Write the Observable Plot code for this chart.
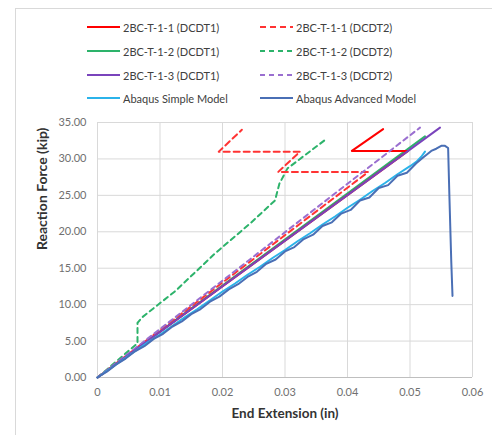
<!DOCTYPE html>
<html>
<head>
<meta charset="utf-8">
<script src="https://cdn.jsdelivr.net/npm/d3@7"></script>
<script src="https://cdn.jsdelivr.net/npm/@observablehq/plot@0.6"></script>
<style>
  html, body { margin: 0; padding: 0; background: #fff; overflow: hidden; }
  #wrap { position: relative; width: 492px; height: 435px; font-family: Lato, "Open Sans", sans-serif; }
  #frame { position: absolute; left: 15px; top: 8px; width: 520px; height: 520px; border: 1px solid #d9d9d9; box-sizing: border-box; }
  #legend { position: absolute; left: 0; top: 0; width: 492px; height: 115px; }
  .item { position: absolute; display: flex; align-items: center; font-size: 11px; color: #404040; white-space: nowrap; }
  .item svg { margin-right: 3px; }
  #chart { position: absolute; left: 0; top: 0; }
</style>
</head>
<body>
<div id="wrap">
  <div id="frame"></div>
  <div id="chart"></div>
  <div id="legend"></div>
</div>
<script>
// ---- tick values ----
const xTicks = [0, 0.01, 0.02, 0.03, 0.04, 0.05, 0.06];
const yTicks = [0, 5, 10, 15, 20, 25, 30, 35];

// ---- series names ----
const seriesNames = [
  "2BC-T-1-1 (DCDT1)", "2BC-T-1-1 (DCDT2)",
  "2BC-T-1-2 (DCDT1)", "2BC-T-1-2 (DCDT2)",
  "2BC-T-1-3 (DCDT1)", "2BC-T-1-3 (DCDT2)",
  "Abaqus Simple Model", "Abaqus Advanced Model"
];

// ---- series data (End Extension in, Reaction Force kip) ----
const t11d1X = [0, 0.0497, 0.0407, 0.0457];
const t11d1Y = [0, 31.1, 31.1, 34.1];

const t11d2X = [0, 0.0433, 0.0289, 0.0324, 0.0194, 0.0231];
const t11d2Y = [0, 28.2, 28.2, 31.0, 31.0, 34.0];

const t12d1X = [0, 0.0524];
const t12d1Y = [0, 33.1];

const t12d2X = [0, 0.0064, 0.0064, 0.0072, 0.0125, 0.0189, 0.0245, 0.0284, 0.0291, 0.0304, 0.0324, 0.0367];
const t12d2Y = [0, 4.7, 7.5, 8.3, 11.9, 17.1, 21.2, 24.3, 26.6, 28.7, 30.0, 32.8];

const t13d1X = [0, 0.0548];
const t13d1Y = [0, 34.3];

const t13d2X = [0, 0.0516];
const t13d2Y = [0, 34.3];

const simpleX = [0, 0.002, 0.004, 0.006, 0.008, 0.010, 0.012, 0.014, 0.016, 0.018, 0.020, 0.022, 0.024, 0.026, 0.028, 0.030, 0.032, 0.034, 0.036, 0.038, 0.040, 0.042, 0.044, 0.046, 0.048, 0.050, 0.051, 0.0518, 0.0524];
const simpleY = [0, 1.2, 2.4, 3.6, 4.8, 5.9, 7.1, 8.3, 9.4, 10.6, 11.8, 12.9, 14.1, 15.2, 16.4, 17.5, 18.7, 19.8, 21.0, 22.1, 23.3, 24.4, 25.6, 26.7, 27.9, 29.0, 29.6, 30.3, 31.0];

const advX = [0, 0.0015, 0.003, 0.0045, 0.006, 0.0075, 0.009, 0.0105, 0.012, 0.0135, 0.015, 0.0165, 0.018, 0.0195, 0.021, 0.0225, 0.024, 0.0255, 0.027, 0.0285, 0.030, 0.0315, 0.033, 0.0345, 0.036, 0.0375, 0.039, 0.0405, 0.042, 0.0435, 0.045, 0.0465, 0.048, 0.0495, 0.051, 0.0521, 0.0534, 0.0542, 0.0550, 0.0556, 0.0561, 0.0563, 0.0566, 0.0568];
const advY = [0, 0.8, 1.8, 2.6, 3.6, 4.3, 5.3, 6.0, 7.0, 7.7, 8.7, 9.4, 10.4, 11.1, 12.1, 12.8, 13.8, 14.5, 15.6, 16.2, 17.3, 17.9, 19.0, 19.6, 20.8, 21.3, 22.5, 23.0, 24.3, 24.7, 26.0, 26.4, 27.7, 28.1, 29.4, 30.2, 31.1, 31.4, 31.8, 31.8, 31.5, 25.0, 16.0, 11.2];

const seriesX = [t11d1X, t11d2X, t12d1X, t12d2X, t13d1X, t13d2X, simpleX, advX];
const seriesY = [t11d1Y, t11d2Y, t12d1Y, t12d2Y, t13d1Y, t13d2Y, simpleY, advY];

// ---- styles ----
const colors = ["#FF0000", "#FF3333", "#2DB36B", "#2DB36B", "#7A44BC", "#9A6FD0", "#2BB3EA", "#4A6FB5"];
const dashes = [null, "6,4", null, "5,4", null, "5,4", null, null];
const order = [2, 3, 0, 1, 5, 4, 6, 7];

const rows = seriesNames.map((name, i) => seriesX[i].map((x, j) => ({series: name, x, y: seriesY[i][j]})));

const font = "Lato, 'Open Sans', sans-serif";

const chart = Plot.plot({
  width: 492,
  height: 435,
  marginLeft: 97,
  marginRight: 20,
  marginTop: 122,
  marginBottom: 58,
  style: {fontFamily: font, fontSize: "11px", color: "#707070", background: "transparent"},
  x: {domain: [0, 0.06], label: null},
  y: {domain: [0, 35], label: null},
  marks: [
    Plot.gridX(xTicks, {stroke: "#d9d9d9", strokeOpacity: 1, strokeWidth: 1}),
    Plot.gridY(yTicks, {stroke: "#d9d9d9", strokeOpacity: 1, strokeWidth: 1}),
    Plot.ruleY([0], {stroke: "#bfbfbf", strokeWidth: 1}),
    Plot.axisX({ticks: xTicks, tickSize: 0, tickPadding: 11, tickFormat: d => d === 0 ? "0" : d3.format(".2f")(d), label: null}),
    Plot.axisY({ticks: yTicks, tickSize: 0, tickPadding: 11, tickFormat: d3.format(".2f"), label: null}),
    ...order.map(i => Plot.line(rows[i], {x: "x", y: "y", stroke: colors[i], strokeWidth: 2, strokeDasharray: dashes[i] ?? undefined, curve: "linear"})),
    Plot.text(["End Extension (in)"], {frameAnchor: "bottom", dy: 40, fontWeight: "bold", fontSize: 13.5, fill: "#333333"}),
    Plot.text(["Reaction Force (kip)"], {frameAnchor: "left", dx: -55, rotate: -90, fontWeight: "bold", fontSize: 14, fill: "#333333"})
  ]
});
document.getElementById("chart").appendChild(chart);

// ---- legend ----
const legendPos = [
  [87, 27], [260, 27],
  [87, 51], [260, 51],
  [87, 75], [260, 75],
  [87, 98], [260, 98]
];
const legend = document.getElementById("legend");
seriesNames.forEach((name, i) => {
  const d = document.createElement("div");
  d.className = "item";
  d.style.left = legendPos[i][0] + "px";
  d.style.top = (legendPos[i][1] - 8) + "px";
  d.style.height = "16px";
  d.innerHTML = `<svg width="33" height="4"><line x1="0" y1="2" x2="33" y2="2" stroke="${colors[i]}" stroke-width="2" ${dashes[i] ? `stroke-dasharray="${dashes[i]}"` : ""}/></svg><span>${name}</span>`;
  legend.appendChild(d);
});
</script>
</body>
</html>
